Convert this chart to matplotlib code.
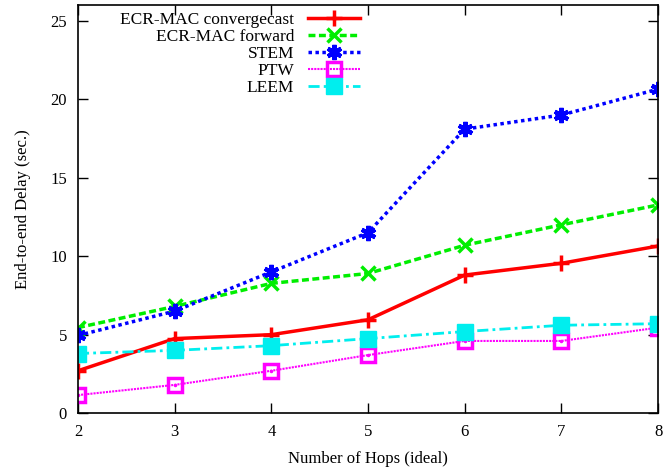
import matplotlib
matplotlib.use("Agg")
import matplotlib.pyplot as plt

hops = [2, 3, 4, 5, 6, 7, 8]
convergecast = [2.7, 4.75, 5.0, 5.95, 8.8, 9.55, 10.65]
forward = [5.45, 6.8, 8.27, 8.9, 10.7, 12.0, 13.27]
stem = [4.95, 6.5, 9.0, 11.5, 18.1, 19.0, 20.65]
ptw = [1.15, 1.8, 2.7, 3.7, 4.6, 4.6, 5.45]
leem = [3.8, 4.0, 4.3, 4.75, 5.2, 5.6, 5.7]

plt.rcParams['font.family'] = ['Liberation Serif', 'DejaVu Serif']
plt.rcParams['font.size'] = 12

fig = plt.figure(figsize=(6.63, 4.70), dpi=100)
ax = fig.add_axes([0.1176, 0.121, 0.875, 0.868])

ax.plot(hops, convergecast, color='#ff0000', lw=2.5, ls='-', marker='+',
        ms=11, mew=2.5, label='ECR-MAC convergecast')
ax.plot(hops, forward, color='#00ee00', lw=2.5, ls=(0, (2, 1)), marker='x',
        ms=10, mew=2.5, label='ECR-MAC forward')
ax.plot(hops, stem, color='#0000ff', lw=2.5, ls=(0, (1, 1)), marker=(6, 2, 0),
        ms=11, mew=3, label='STEM')
ax.plot(hops, ptw, color='#ff00ff', lw=1.5, ls=(0, (1, 0.5)), marker='s',
        ms=10, mew=2.5, mfc='none', label='PTW')
ax.plot(hops, ptw, color='#ff00ff', lw=0, marker='.', ms=3)
ax.plot(hops, leem, color='#00eeee', lw=2.0, ls=(0, (4, 1.5, 1, 1.5)), marker='s',
        ms=11, label='LEEM')

ax.set_xlim(2, 8)
ax.set_ylim(0, 26)
ax.set_xticks(hops)
ax.set_yticks([0, 5, 10, 15, 20, 25])
ax.tick_params(direction='in', length=7, width=1, top=True, right=True, pad=8)
for s in ax.spines.values():
    s.set_linewidth(1.2)

ax.set_xlabel('Number of Hops (ideal)', labelpad=8)
ax.set_ylabel('End-to-end Delay (sec.)', labelpad=14)

ax.legend(loc='upper left', bbox_to_anchor=(0.055, 1.01), frameon=False,
          markerfirst=False, handlelength=3.0, labelspacing=0.05,
          borderaxespad=0.2, handletextpad=0.8, fontsize=12.5)

fig.savefig('out.png', dpi=100)
